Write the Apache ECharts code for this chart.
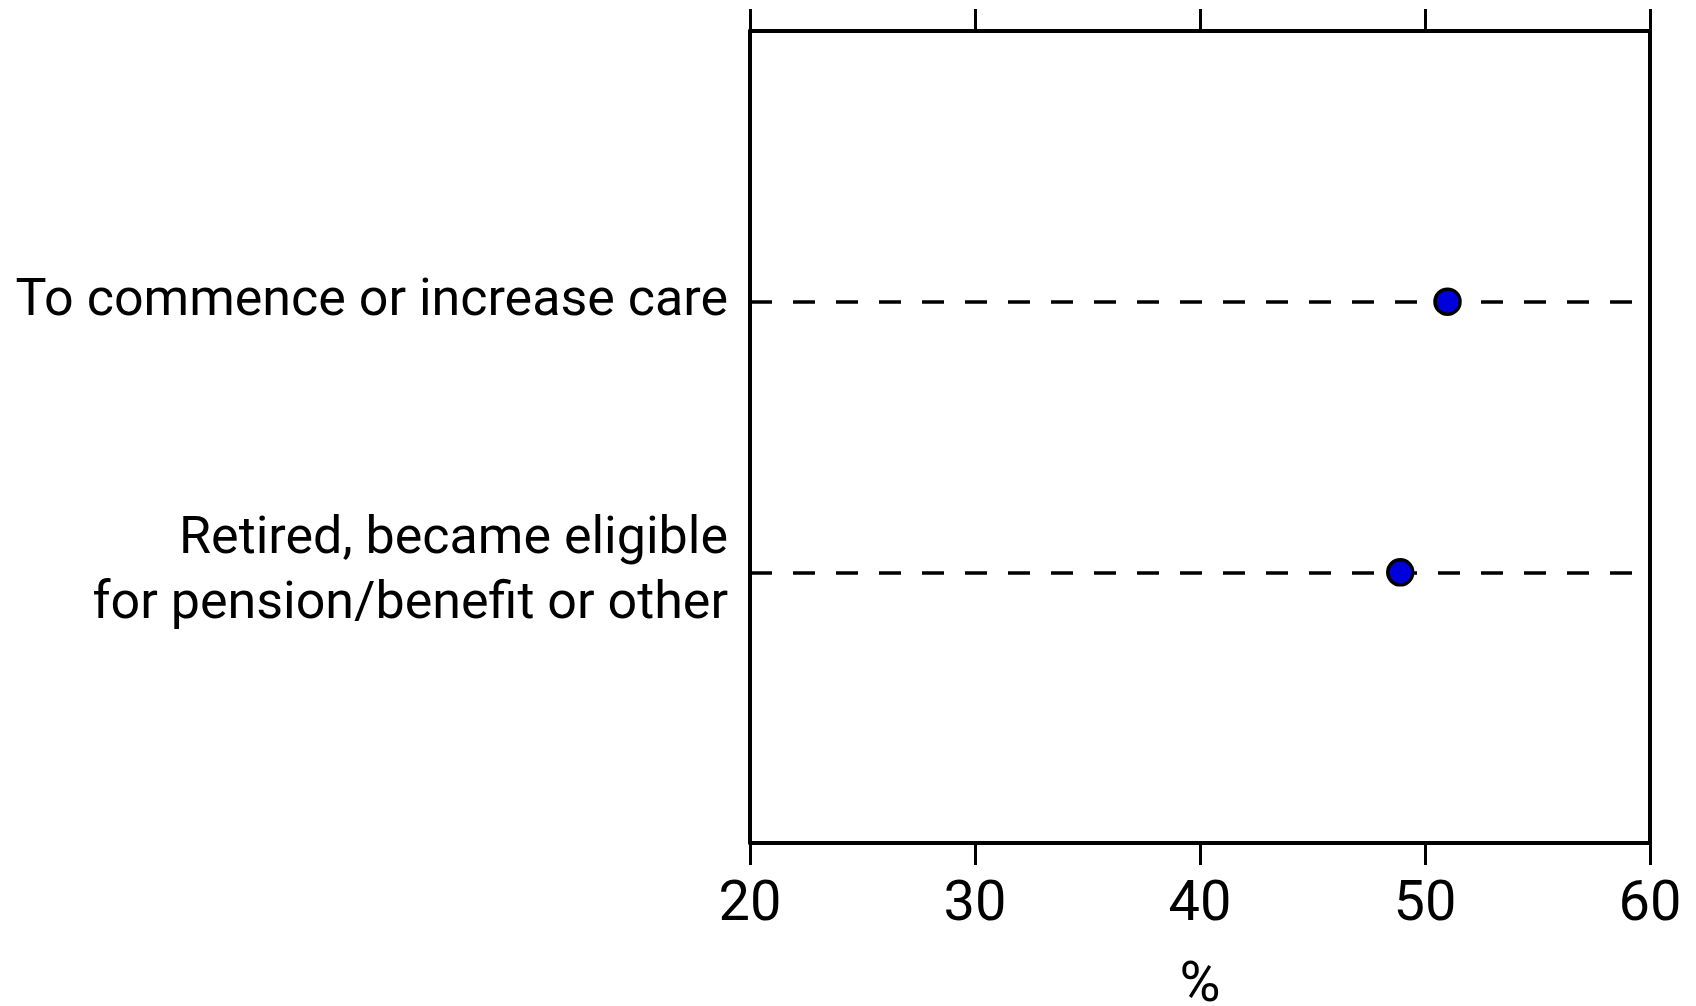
<!DOCTYPE html>
<html lang="en">

<head>
    <meta charset="UTF-8" />
    <title>Reasons</title>
    <script src="https://cdn.jsdelivr.net/npm/echarts@6/dist/echarts.min.js"></script>
    <style>
        html, body { margin: 0; padding: 0; background: #fff; }
        #main { width: 1696px; height: 1006px; }
    </style>
</head>

<body>
    <div id="main"></div>
</body>
<script>
    // rows, bottom to top (blank rows pad the ends)
    var categories = ['', 'Retired, became eligible\nfor pension/benefit or other', 'To commence or increase care', ' '];
    var values = [51.0, 48.9];
    var valueRows = ['To commence or increase care', 'Retired, became eligible\nfor pension/benefit or other'];
    var xTicks = [20, 30, 40, 50, 60];

    var myChart = echarts.init(document.getElementById('main'));

    var font = 'Roboto, "Liberation Sans", sans-serif';
    var points = [];
    for (var i = 0; i < values.length; i++) {
        points.push([values[i], valueRows[i]]);
    }

    var option = {
        animation: false,
        grid: { left: 750, right: 46, top: 31, bottom: 163, containLabel: false, outerBoundsMode: 'none' },
        xAxis: [{
            type: 'value',
            position: 'bottom',
            min: xTicks[0],
            max: xTicks[xTicks.length - 1],
            interval: 10,
            name: '%',
            nameLocation: 'middle',
            nameGap: 116,
            nameTextStyle: { fontFamily: font, fontSize: 56, color: '#000' },
            axisLine: { show: true, lineStyle: { color: '#000', width: 4 } },
            axisTick: { show: true, length: 22, lineStyle: { color: '#000', width: 3 } },
            axisLabel: { fontFamily: font, fontSize: 56, color: '#000', margin: 35 },
            splitLine: { show: false }
        }, {
            type: 'value',
            position: 'top',
            min: xTicks[0],
            max: xTicks[xTicks.length - 1],
            interval: 10,
            axisLine: { show: true, lineStyle: { color: '#000', width: 4 } },
            axisTick: { show: true, length: 22, lineStyle: { color: '#000', width: 3 } },
            axisLabel: { show: false },
            splitLine: { show: false }
        }],
        yAxis: [{
            type: 'category',
            position: 'left',
            data: categories,
            boundaryGap: false,
            axisLine: { show: true, lineStyle: { color: '#000', width: 4 } },
            axisTick: { show: false },
            axisLabel: {
                fontFamily: font, fontSize: 52, color: '#000', margin: 22,
                lineHeight: 65, align: 'right', padding: [8, 0, 0, 0]
            },
            splitLine: {
                show: true,
                interval: function (index) { return index === 1 || index === 2; },
                lineStyle: { color: '#000', width: 3.5, type: [22, 21] }
            }
        }, {
            type: 'category',
            position: 'right',
            data: categories,
            boundaryGap: false,
            axisLine: { show: true, lineStyle: { color: '#000', width: 4 } },
            axisTick: { show: false },
            axisLabel: { show: false },
            splitLine: { show: false }
        }],
        series: [{
            type: 'scatter',
            xAxisIndex: 0,
            yAxisIndex: 0,
            data: points,
            symbol: 'circle',
            symbolSize: 25,
            itemStyle: { color: '#0000dd', borderColor: '#000', borderWidth: 3.5, opacity: 1 },
            z: 5
        }]
    };

    myChart.setOption(option);
</script>

</html>
